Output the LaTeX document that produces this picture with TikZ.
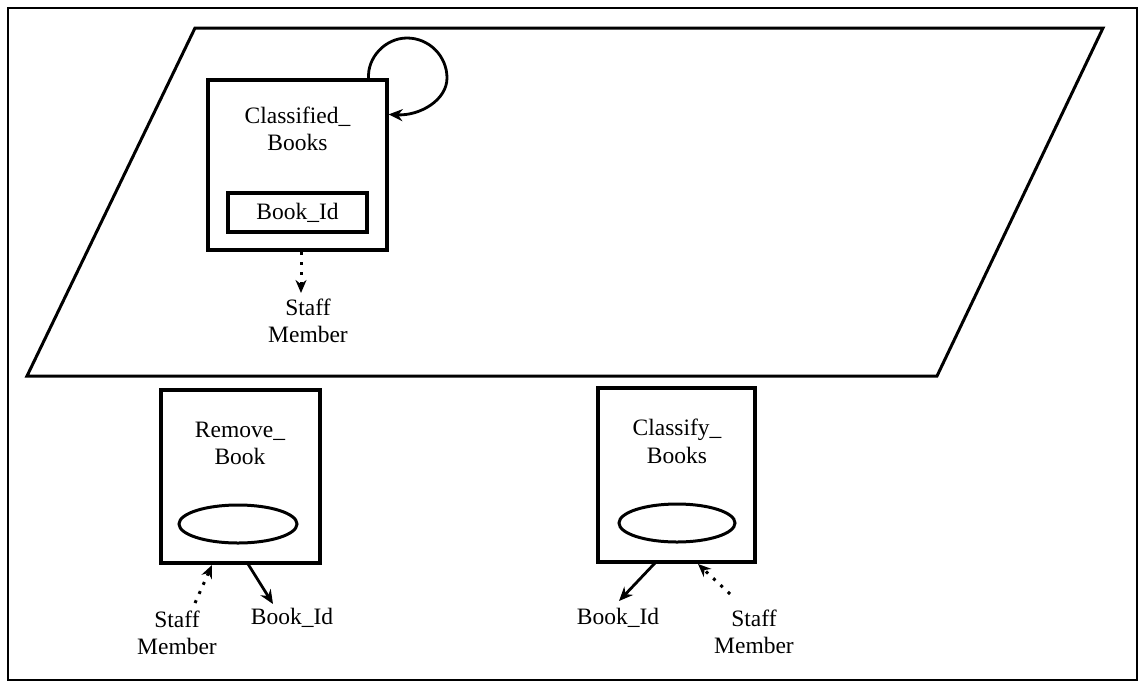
\documentclass[tikz,border=0pt]{standalone}
\usepackage{fontspec}
\setmainfont{Liberation Serif}
\usetikzlibrary{arrows.meta,calc,shapes.geometric}
\begin{document}
\begin{tikzpicture}[x=1pt,y=-1pt,
  txt/.style={font=\fontsize{23.5}{27.5}\selectfont,align=center,inner sep=0pt},
  box/.style={draw,line width=3.2pt,inner sep=0pt},
  arr/.style={line width=2.8pt,-{Stealth[length=14pt,width=12pt]}},
  dotarr/.style={line width=3pt,dash pattern=on 3pt off 7pt,-{Stealth[length=13pt,width=11pt]}}]
\useasboundingbox (0,0) rectangle (1143,686);
% outer frame
\draw[line width=2.6pt] (8,8) rectangle (1137,680);
% parallelogram
\draw[line width=3pt,line join=miter] (195,28) -- (1103,28) -- (937,376) -- (27,376) -- cycle;
% Classified_Books
\node[box,minimum width=179pt,minimum height=170pt] (cb) at (297.5,165) {};
\node[txt] (cbt) at (297.5,129) {Classified\_\\Books};
\node[box,minimum width=139pt,minimum height=39pt] (bid) at (297.5,212.5) {};
\node[txt] at (bid.center) {Book\_Id};
\coordinate (ls) at ($(cb.north east)+(-20,0)$);
\coordinate (le) at ($(cb.north east)+(0,36)$);
\draw[arr] (ls) .. controls (367,58) and (385,38) .. (407,38)
  .. controls (429,38) and (447,56) .. (447,78)
  .. controls (447,100) and (420,116) .. (le);
\node[txt] (sm1) at (308,321) {Staff\\Member};
\coordinate (d1s) at (301,252);
\draw[dotarr] (d1s) -- (301,293);
% Remove_Book
\node[box,minimum width=159pt,minimum height=173pt] (rb) at (240.5,476.5) {};
\node[txt] (rbt) at (240,443.5) {Remove\_\\Book};
\node[draw,line width=3pt,ellipse,minimum width=118pt,minimum height=38pt,inner sep=0pt] (re) at (238,524) {};
\node[txt] (rsm) at (177,633) {Staff\\Member};
\node[txt] (rbid) at (292,618) {Book\_Id};
\coordinate (rds) at (195,603);
\draw[dotarr] (rds) -- (212,565);
\draw[arr] (248,564) -- (273,604);
% Classify_Books
\node[box,minimum width=157pt,minimum height=174pt] (cl) at (676.5,475) {};
\node[txt] (clt) at (677,441.5) {Classify\_\\Books};
\node[draw,line width=3pt,ellipse,minimum width=116pt,minimum height=38pt,inner sep=0pt] (ce) at (677,523) {};
\node[txt] (cbid) at (618,618) {Book\_Id};
\node[txt] (csm) at (754,632) {Staff\\Member};
\draw[arr] (655,563) -- (619,601);
\coordinate (cds) at (730,594);
\draw[dotarr] (cds) -- (698,564);
\end{tikzpicture}
\end{document}
